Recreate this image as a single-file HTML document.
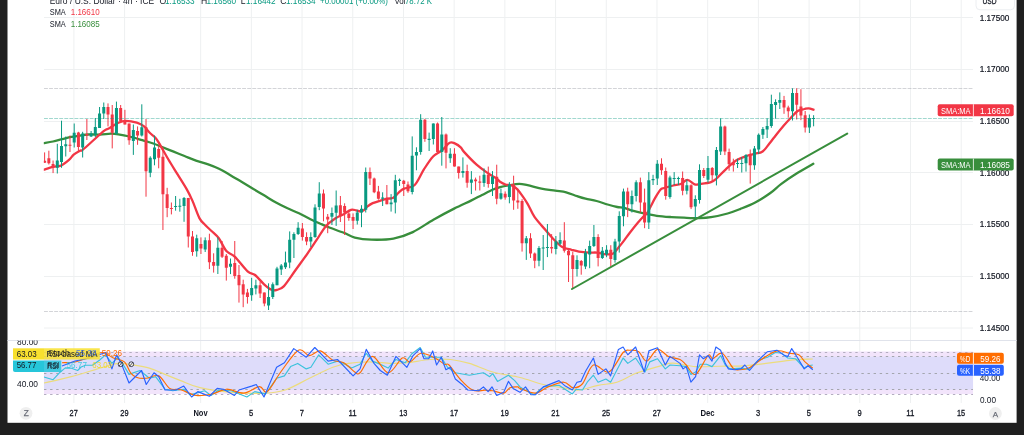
<!DOCTYPE html><html><head><meta charset="utf-8"><style>html,body{margin:0;padding:0;background:#1f1f1f;width:1024px;height:435px;overflow:hidden}svg{display:block}text{font-family:"Liberation Sans",sans-serif}</style></head><body>
<svg style="will-change:transform;filter:blur(0.3px)" width="1024" height="435" viewBox="0 0 1024 435">
<defs><clipPath id="plot"><rect x="43.8" y="0" width="929.4" height="340"/></clipPath>
<clipPath id="rsi"><rect x="43.8" y="340.5" width="929.4" height="62"/></clipPath>
<clipPath id="lscale"><rect x="7.5" y="340.5" width="36.3" height="62"/></clipPath></defs>
<rect x="0" y="0" width="1024" height="435" fill="#1f1f1f"/>
<rect x="7.5" y="0" width="1009.1" height="422.8" fill="#ffffff"/>
<path d="M73.90 0V403 M124.60 0V403 M200.65 0V403 M251.35 0V403 M302.06 0V403 M352.76 0V403 M403.46 0V403 M454.16 0V403 M504.87 0V403 M555.57 0V403 M606.27 0V403 M656.97 0V403 M707.68 0V403 M758.38 0V403 M809.08 0V403 M859.78 0V403 M910.49 0V403 M961.19 0V403 M44 17.5H973 M44 69.5H973 M44 121.5H973 M44 172.5H973 M44 224.5H973 M44 276.5H973 M44 328H973" stroke="#eef0f1" stroke-width="1" fill="none"/>
<path d="M44 88.5H973" stroke="#9598a1" stroke-width="1" stroke-dasharray="3.9 1.18" fill="none" opacity="0.42"/>
<path d="M44 311.5H973" stroke="#9598a1" stroke-width="1" stroke-dasharray="3.9 1.18" fill="none" opacity="0.42"/>
<g clip-path="url(#plot)">
<path d="M43.80 143.20 C45.33 142.92 49.93 142.17 53.00 141.50 C56.07 140.83 59.13 139.97 62.20 139.20 C65.27 138.43 68.43 137.48 71.40 136.90 C74.37 136.32 77.27 136.10 80.00 135.70 C82.73 135.30 84.47 134.70 87.80 134.50 C91.13 134.30 96.13 134.63 100.00 134.50 C103.87 134.37 107.93 133.73 111.00 133.70 C114.07 133.67 115.33 133.83 118.40 134.30 C121.47 134.77 125.42 135.52 129.40 136.50 C133.38 137.48 138.32 139.03 142.30 140.20 C146.28 141.37 150.10 142.40 153.30 143.50 C156.50 144.60 158.22 145.48 161.50 146.80 C164.78 148.12 169.17 149.87 173.00 151.40 C176.83 152.93 180.67 154.47 184.50 156.00 C188.33 157.53 192.17 159.25 196.00 160.60 C199.83 161.95 203.67 162.75 207.50 164.10 C211.33 165.45 215.25 166.90 219.00 168.70 C222.75 170.50 226.25 172.72 230.00 174.90 C233.75 177.08 237.67 179.50 241.50 181.80 C245.33 184.10 249.17 186.40 253.00 188.70 C256.83 191.00 260.67 193.30 264.50 195.60 C268.33 197.90 272.17 200.38 276.00 202.50 C279.83 204.62 283.67 206.50 287.50 208.30 C291.33 210.10 295.17 211.47 299.00 213.30 C302.83 215.13 306.67 217.45 310.50 219.30 C314.33 221.15 318.75 222.98 322.00 224.40 C325.25 225.82 326.37 226.40 330.00 227.80 C333.63 229.20 339.67 231.17 343.80 232.80 C347.93 234.43 350.20 236.45 354.80 237.60 C359.40 238.75 364.97 239.53 371.40 239.70 C377.83 239.87 386.50 239.87 393.40 238.60 C400.30 237.33 406.13 235.25 412.80 232.10 C419.47 228.95 426.52 223.62 433.40 219.70 C440.28 215.78 447.83 211.78 454.10 208.60 C460.37 205.42 466.35 202.87 471.00 200.60 C475.65 198.33 478.32 196.85 482.00 195.00 C485.68 193.15 490.10 190.80 493.10 189.50 C496.10 188.20 497.47 187.88 500.00 187.20 C502.53 186.52 505.08 185.97 508.30 185.40 C511.52 184.83 516.08 183.83 519.30 183.80 C522.52 183.77 523.92 184.40 527.60 185.20 C531.28 186.00 536.80 187.68 541.40 188.60 C546.00 189.52 551.07 190.08 555.20 190.70 C559.33 191.32 562.53 191.38 566.20 192.30 C569.87 193.22 573.98 195.13 577.20 196.20 C580.42 197.27 582.27 197.90 585.50 198.70 C588.73 199.50 592.92 200.03 596.60 201.00 C600.28 201.97 604.17 203.50 607.60 204.50 C611.03 205.50 614.45 206.43 617.20 207.00 C619.95 207.57 621.57 207.28 624.10 207.90 C626.63 208.52 629.10 209.78 632.40 210.70 C635.70 211.62 639.83 212.55 643.90 213.40 C647.97 214.25 652.20 215.18 656.80 215.80 C661.40 216.42 666.97 216.78 671.50 217.10 C676.03 217.42 679.25 217.53 684.00 217.70 C688.75 217.87 695.50 218.18 700.00 218.10 C704.50 218.02 706.40 217.97 711.00 217.20 C715.60 216.43 722.68 214.88 727.60 213.50 C732.52 212.12 735.90 210.73 740.50 208.90 C745.10 207.07 750.28 205.10 755.20 202.50 C760.12 199.90 765.70 196.37 770.00 193.30 C774.30 190.23 776.70 187.32 781.00 184.10 C785.30 180.88 790.42 177.38 795.80 174.00 C801.18 170.62 810.38 165.50 813.30 163.80" fill="none" stroke="#388e3c" stroke-width="2.3" stroke-linejoin="round" stroke-linecap="round"/>
<path d="M43.80 169.70 C45.33 169.22 50.13 167.48 53.00 166.80 C55.87 166.12 58.33 166.75 61.00 165.60 C63.67 164.45 66.88 161.72 69.00 159.90 C71.12 158.08 71.87 156.23 73.70 154.70 C75.53 153.17 78.57 151.45 80.00 150.70 C81.43 149.95 80.38 151.65 82.30 150.20 C84.22 148.75 87.88 145.22 91.50 142.00 C95.12 138.78 101.05 133.20 104.00 130.90 C106.95 128.60 106.80 129.57 109.20 128.20 C111.60 126.83 115.65 123.92 118.40 122.70 C121.15 121.48 122.63 120.90 125.70 120.90 C128.77 120.90 133.73 121.78 136.80 122.70 C139.87 123.62 141.95 124.72 144.10 126.40 C146.25 128.08 147.85 130.95 149.70 132.80 C151.55 134.65 153.62 135.73 155.20 137.50 C156.78 139.27 157.00 139.73 159.20 143.40 C161.40 147.07 165.33 154.33 168.40 159.50 C171.47 164.67 174.53 169.42 177.60 174.40 C180.67 179.38 184.32 184.98 186.80 189.40 C189.28 193.82 190.40 196.12 192.50 200.90 C194.60 205.68 197.28 214.08 199.40 218.10 C201.52 222.12 203.18 222.85 205.20 225.00 C207.22 227.15 209.23 228.78 211.50 231.00 C213.77 233.22 216.32 234.95 218.80 238.30 C221.28 241.65 223.75 248.03 226.40 251.10 C229.05 254.17 231.17 253.32 234.70 256.70 C238.23 260.08 244.22 268.35 247.60 271.40 C250.98 274.45 252.25 272.85 255.00 275.00 C257.75 277.15 261.35 281.83 264.10 284.30 C266.85 286.77 269.35 288.88 271.50 289.80 C273.65 290.72 274.92 290.42 277.00 289.80 C279.08 289.18 280.90 289.40 284.00 286.10 C287.10 282.80 291.67 275.45 295.60 270.00 C299.53 264.55 304.07 258.45 307.60 253.40 C311.13 248.35 313.73 244.28 316.80 239.70 C319.87 235.12 322.93 229.43 326.00 225.90 C329.07 222.37 332.20 220.50 335.20 218.50 C338.20 216.50 341.37 215.35 344.00 213.90 C346.63 212.45 348.98 210.40 351.00 209.80 C353.02 209.20 354.55 210.05 356.10 210.30 C357.65 210.55 359.03 211.30 360.30 211.30 C361.57 211.30 362.55 211.08 363.70 210.30 C364.85 209.52 365.70 207.80 367.20 206.60 C368.70 205.40 370.48 204.10 372.70 203.10 C374.92 202.10 377.98 201.33 380.50 200.60 C383.02 199.87 385.67 199.17 387.80 198.70 C389.93 198.23 391.45 198.87 393.30 197.80 C395.15 196.73 397.12 193.83 398.90 192.30 C400.68 190.77 401.37 189.82 404.00 188.60 C406.63 187.38 411.38 188.20 414.70 185.00 C418.02 181.80 420.83 174.15 423.90 169.40 C426.97 164.65 430.03 159.73 433.10 156.50 C436.17 153.27 439.53 152.30 442.30 150.00 C445.07 147.70 447.55 143.77 449.70 142.70 C451.85 141.63 453.37 142.83 455.20 143.60 C457.03 144.37 459.23 145.92 460.70 147.30 C462.17 148.68 461.35 149.00 464.00 151.90 C466.65 154.80 472.67 161.18 476.60 164.70 C480.53 168.22 484.23 170.68 487.60 173.00 C490.97 175.32 494.73 177.15 496.80 178.60 C498.87 180.05 498.55 180.72 500.00 181.70 C501.45 182.68 503.67 183.92 505.50 184.50 C507.33 185.08 509.15 184.52 511.00 185.20 C512.85 185.88 514.75 186.88 516.60 188.60 C518.45 190.32 520.27 192.97 522.10 195.50 C523.93 198.03 525.53 200.23 527.60 203.80 C529.67 207.37 531.52 212.53 534.50 216.90 C537.48 221.27 542.40 226.37 545.50 230.00 C548.60 233.63 550.30 235.87 553.10 238.70 C555.90 241.53 559.23 245.15 562.30 247.00 C565.37 248.85 568.73 249.03 571.50 249.80 C574.27 250.57 575.92 251.13 578.90 251.60 C581.88 252.07 586.42 252.43 589.40 252.60 C592.38 252.77 594.03 252.30 596.80 252.60 C599.57 252.90 603.25 254.25 606.00 254.40 C608.75 254.55 611.15 254.73 613.30 253.50 C615.45 252.27 617.12 249.15 618.90 247.00 C620.68 244.85 622.15 243.02 624.00 240.60 C625.85 238.18 627.73 235.43 630.00 232.50 C632.27 229.57 635.28 225.75 637.60 223.00 C639.92 220.25 642.32 217.63 643.90 216.00 C645.48 214.37 646.03 214.67 647.10 213.20 C648.17 211.73 648.93 209.78 650.30 207.20 C651.67 204.62 653.62 200.60 655.30 197.70 C656.98 194.80 658.95 191.42 660.40 189.80 C661.85 188.18 661.85 188.72 664.00 188.00 C666.15 187.28 670.52 186.17 673.30 185.50 C676.08 184.83 678.35 184.93 680.70 184.00 C683.05 183.07 685.07 179.85 687.40 179.90 C689.73 179.95 692.60 183.60 694.70 184.30 C696.80 185.00 697.28 184.45 700.00 184.10 C702.72 183.75 708.23 183.13 711.00 182.20 C713.77 181.27 714.13 180.65 716.60 178.50 C719.07 176.35 722.43 172.37 725.80 169.30 C729.17 166.23 733.12 162.40 736.80 160.10 C740.48 157.80 744.83 156.57 747.90 155.50 C750.97 154.43 752.75 154.37 755.20 153.70 C757.65 153.03 760.23 153.20 762.60 151.50 C764.97 149.80 767.48 145.83 769.40 143.50 C771.32 141.17 771.70 140.48 774.10 137.50 C776.50 134.52 781.03 128.85 783.80 125.60 C786.57 122.35 788.40 120.43 790.70 118.00 C793.00 115.57 795.30 112.50 797.60 111.00 C799.90 109.50 802.65 109.45 804.50 109.00 C806.35 108.55 807.20 108.18 808.70 108.30 C810.20 108.42 812.70 109.47 813.50 109.70" fill="none" stroke="#f23645" stroke-width="2.3" stroke-linejoin="round" stroke-linecap="round"/>
<path d="M57.30 143.8V173.5 M61.52 120.7V167.8 M65.75 136.5V156.5 M74.20 123.5V147.5 M82.65 131.8V157.5 M91.10 131.0V137.0 M95.32 118.0V137.0 M99.55 107.0V128.0 M103.77 102.5V119.0 M116.45 101.6V134.7 M133.35 124.5V154.9 M141.80 104.3V136.5 M150.25 156.3V177.2 M154.48 135.5V165.3 M175.60 196.0V210.7 M179.83 198.8V211.7 M184.05 197.0V221.8 M196.73 234.7V256.7 M205.18 237.4V252.0 M217.85 237.4V274.0 M230.53 258.5V274.1 M251.65 277.8V300.8 M255.88 279.7V294.4 M268.56 283.3V310.0 M272.78 282.4V299.0 M277.01 266.8V285.2 M281.23 264.0V275.0 M285.46 251.6V269.0 M289.68 231.4V268.2 M293.91 232.3V258.0 M298.13 222.2V235.0 M310.81 232.3V247.0 M315.03 204.3V237.8 M319.26 182.2V210.2 M331.93 207.5V225.0 M336.16 190.5V225.9 M357.28 209.8V224.5 M361.51 205.2V227.2 M365.74 167.5V212.5 M382.64 192.3V206.0 M391.09 194.1V211.6 M395.31 174.8V213.4 M399.54 178.5V185.9 M412.21 136.4V194.4 M416.44 147.3V170.3 M420.66 114.2V154.7 M429.11 132.6V151.0 M433.34 123.4V144.5 M441.79 117.0V165.7 M450.24 148.2V162.9 M462.91 157.4V177.6 M471.37 171.1V194.1 M484.04 168.4V186.8 M492.49 171.1V196.0 M500.94 188.6V199.7 M509.39 182.2V203.3 M526.29 236.0V259.9 M538.97 246.1V266.3 M543.19 235.0V270.0 M547.42 224.0V257.1 M555.87 236.0V254.4 M560.09 232.3V245.2 M577.00 255.3V276.5 M585.45 248.9V269.1 M589.67 240.6V268.2 M593.90 225.0V247.0 M602.35 247.0V259.0 M606.57 245.2V257.2 M615.02 238.8V262.7 M619.25 211.3V252.6 M623.47 188.6V226.3 M631.92 190.5V212.5 M636.15 180.3V201.5 M648.82 172.1V229.0 M653.05 174.8V185.0 M657.27 160.1V185.0 M669.95 175.7V198.7 M674.17 172.1V185.0 M678.40 176.7V185.0 M686.85 179.7V194.4 M695.30 195.3V218.3 M699.53 164.3V203.6 M707.98 156.0V182.6 M716.43 147.0V185.4 M720.65 118.3V155.0 M737.55 158.7V168.0 M741.78 157.0V172.5 M746.00 154.1V171.6 M754.45 146.0V169.8 M758.68 133.4V154.1 M762.90 127.0V138.9 M767.13 118.3V138.0 M771.35 94.7V127.8 M775.58 99.3V118.7 M779.80 92.4V109.0 M792.48 88.3V120.5 M809.38 114.5V133.0 M813.61 115.2V126.3" stroke="#089981" stroke-width="1" fill="none"/>
<path d="M44.62 152.4V162.8 M48.85 150.7V164.5 M53.07 160.5V173.1 M69.97 135.5V152.0 M78.42 131.8V151.0 M86.87 119.0V140.0 M108.00 103.4V126.4 M112.22 105.0V148.4 M120.67 105.0V121.8 M124.90 109.8V124.5 M129.12 123.6V144.8 M137.57 126.4V144.8 M146.02 119.0V196.7 M158.70 145.7V168.3 M162.93 147.6V230.0 M167.15 187.8V217.2 M171.38 202.5V214.4 M188.28 197.9V247.5 M192.50 231.0V255.8 M200.95 237.4V254.0 M209.40 233.7V269.1 M213.63 253.3V272.6 M222.08 241.0V258.0 M226.30 254.0V280.6 M234.75 241.0V278.7 M238.98 265.0V302.6 M243.20 279.7V307.2 M247.43 288.9V303.6 M260.11 281.5V298.0 M264.33 292.5V306.3 M302.36 223.0V240.6 M306.58 232.3V245.2 M323.48 189.5V221.3 M327.71 214.0V233.2 M340.38 196.0V222.0 M344.61 203.3V235.0 M348.83 209.8V220.8 M353.06 213.4V229.0 M369.96 167.5V185.0 M374.19 177.6V193.2 M378.41 185.9V199.7 M386.86 185.0V204.3 M403.76 179.9V196.0 M407.99 181.5V192.8 M424.89 118.8V141.8 M437.56 122.5V151.9 M446.01 133.5V168.4 M454.46 148.2V166.6 M458.69 166.6V178.6 M467.14 164.7V187.7 M475.59 177.6V190.5 M479.82 175.7V190.5 M488.27 166.6V187.7 M496.72 164.7V204.3 M505.17 191.4V199.7 M513.62 175.7V209.8 M517.84 188.6V208.8 M522.07 199.2V251.6 M530.52 233.2V258.0 M534.74 252.5V268.2 M551.64 234.1V253.4 M564.32 222.2V252.6 M568.54 248.9V282.0 M572.77 251.7V288.4 M581.22 260.0V274.7 M598.12 234.2V266.4 M610.80 245.2V266.4 M627.70 187.7V217.1 M640.37 177.6V212.5 M644.60 188.6V228.2 M661.50 158.3V174.8 M665.72 167.5V199.7 M682.63 171.5V195.3 M691.08 184.3V209.1 M703.75 168.0V178.0 M712.20 167.0V181.7 M724.88 125.6V155.1 M729.10 148.6V170.7 M733.33 158.7V171.6 M750.23 149.5V183.6 M784.03 95.9V113.8 M788.26 105.7V117.7 M796.71 88.3V119.5 M800.93 89.2V120.2 M805.16 111.0V132.5" stroke="#f23645" stroke-width="1" fill="none"/>
<path d="M55.80 160.5h3v7.3h-3z M60.02 146.0h3v16.0h-3z M64.25 144.2h3v2.1h-3z M72.70 132.8h3v9.7h-3z M81.15 133.6h3v13.8h-3z M89.60 133.6h3v2.8h-3z M93.82 127.0h3v7.5h-3z M98.05 113.4h3v14.6h-3z M102.27 107.0h3v6.5h-3z M114.95 108.0h3v25.7h-3z M131.85 130.0h3v11.0h-3z M140.30 127.3h3v8.3h-3z M148.75 157.8h3v15.0h-3z M152.98 147.4h3v11.9h-3z M174.10 206.1h3v1.0h-3z M178.33 205.8h3v1.0h-3z M182.55 197.9h3v8.2h-3z M195.23 238.3h3v12.9h-3z M203.68 240.2h3v9.2h-3z M216.35 247.8h3v17.9h-3z M229.03 263.7h3v3.1h-3z M250.15 288.0h3v7.3h-3z M254.38 285.2h3v3.3h-3z M267.06 297.1h3v8.3h-3z M271.28 284.3h3v12.8h-3z M275.51 268.6h3v16.6h-3z M279.73 265.5h3v4.0h-3z M283.96 262.6h3v4.6h-3z M288.18 239.7h3v22.9h-3z M292.41 234.1h3v5.6h-3z M296.63 227.7h3v6.4h-3z M309.31 236.9h3v4.6h-3z M313.53 207.5h3v29.4h-3z M317.76 193.5h3v13.5h-3z M330.43 213.0h3v3.7h-3z M334.66 205.4h3v7.4h-3z M355.78 212.5h3v8.3h-3z M360.01 208.8h3v3.7h-3z M364.24 172.0h3v37.8h-3z M381.14 197.4h3v1.3h-3z M389.59 202.4h3v1.9h-3z M393.81 180.3h3v22.1h-3z M398.04 179.8h3v1.2h-3z M410.71 155.8h3v36.2h-3z M414.94 151.9h3v3.7h-3z M419.16 119.7h3v32.2h-3z M427.61 138.7h3v1.3h-3z M431.84 123.4h3v15.6h-3z M440.29 134.4h3v17.5h-3z M448.74 153.7h3v4.6h-3z M461.41 171.1h3v1.9h-3z M469.87 179.4h3v3.3h-3z M482.54 174.8h3v8.3h-3z M490.99 176.7h3v7.3h-3z M499.44 193.2h3v5.5h-3z M507.89 184.6h3v12.3h-3z M524.79 238.2h3v5.1h-3z M537.47 248.0h3v12.8h-3z M541.69 247.4h3v1.1h-3z M545.92 247.0h3v1.1h-3z M554.37 241.5h3v7.4h-3z M558.59 240.0h3v3.7h-3z M575.50 260.0h3v9.1h-3z M583.95 252.6h3v13.8h-3z M588.17 246.1h3v8.3h-3z M592.40 237.0h3v9.1h-3z M600.85 250.7h3v7.4h-3z M605.07 249.8h3v4.6h-3z M613.52 241.6h3v18.3h-3z M617.75 215.9h3v25.7h-3z M621.97 191.4h3v24.8h-3z M630.42 196.0h3v8.3h-3z M634.65 182.2h3v13.8h-3z M647.32 180.3h3v42.3h-3z M651.55 179.0h3v1.3h-3z M655.77 163.8h3v14.7h-3z M668.45 177.6h3v19.3h-3z M672.67 178.1h3v1.0h-3z M676.90 178.1h3v1.0h-3z M685.35 185.2h3v5.5h-3z M693.80 199.0h3v7.4h-3z M698.03 170.0h3v30.0h-3z M706.48 168.0h3v11.8h-3z M714.93 150.0h3v25.5h-3z M719.15 126.6h3v24.8h-3z M736.05 163.0h3v1.0h-3z M740.28 163.0h3v1.0h-3z M744.50 155.0h3v8.3h-3z M752.95 148.6h3v16.6h-3z M757.18 134.8h3v14.7h-3z M761.40 129.0h3v5.8h-3z M765.63 126.0h3v3.5h-3z M769.85 103.9h3v22.1h-3z M774.08 102.1h3v2.8h-3z M778.30 100.0h3v2.8h-3z M790.98 92.9h3v18.4h-3z M807.88 118.0h3v9.6h-3z M812.11 118.0h3v1.0h-3z" fill="#089981"/>
<path d="M43.12 160.8h3v2.0h-3z M47.35 158.2h3v5.1h-3z M51.57 163.9h3v3.5h-3z M68.47 144.8h3v1.0h-3z M76.92 132.5h3v14.5h-3z M85.37 134.0h3v1.5h-3z M106.50 107.0h3v7.4h-3z M110.72 114.4h3v18.4h-3z M119.17 108.0h3v12.9h-3z M123.40 120.9h3v3.6h-3z M127.62 123.6h3v16.6h-3z M136.07 131.0h3v4.6h-3z M144.52 127.3h3v44.0h-3z M157.20 148.9h3v8.9h-3z M161.43 156.8h3v37.4h-3z M165.65 194.2h3v13.8h-3z M169.88 208.0h3v1.0h-3z M186.78 197.9h3v38.6h-3z M191.00 236.5h3v15.5h-3z M199.45 243.9h3v4.5h-3z M207.90 240.2h3v22.0h-3z M212.13 262.0h3v3.7h-3z M220.58 247.8h3v8.9h-3z M224.80 255.7h3v12.0h-3z M233.25 263.1h3v12.9h-3z M237.48 275.0h3v10.2h-3z M241.70 284.3h3v10.1h-3z M245.93 292.5h3v4.6h-3z M258.61 285.2h3v8.2h-3z M262.83 292.5h3v11.1h-3z M300.86 228.6h3v8.3h-3z M305.08 236.9h3v4.6h-3z M321.98 193.5h3v15.0h-3z M326.21 216.7h3v2.7h-3z M338.88 205.2h3v11.0h-3z M343.11 206.1h3v6.4h-3z M347.33 213.4h3v4.6h-3z M351.56 217.1h3v3.7h-3z M368.46 172.0h3v6.5h-3z M372.69 178.5h3v13.8h-3z M376.91 191.4h3v7.3h-3z M385.36 197.8h3v6.5h-3z M402.26 180.7h3v3.3h-3z M406.49 184.4h3v6.8h-3z M423.39 119.7h3v19.3h-3z M436.06 123.4h3v28.5h-3z M444.51 134.4h3v18.4h-3z M452.96 153.7h3v12.9h-3z M457.19 166.6h3v6.4h-3z M465.64 171.1h3v11.6h-3z M474.09 179.4h3v1.9h-3z M478.32 181.6h3v1.1h-3z M486.77 174.8h3v9.2h-3z M495.22 176.7h3v22.0h-3z M503.67 193.8h3v3.6h-3z M512.12 184.6h3v16.0h-3z M516.34 200.6h3v1.8h-3z M520.57 201.0h3v42.3h-3z M529.02 238.2h3v15.2h-3z M533.24 253.4h3v7.4h-3z M550.14 247.0h3v1.5h-3z M562.82 240.6h3v10.1h-3z M567.04 250.7h3v4.6h-3z M571.27 255.3h3v13.8h-3z M579.72 260.9h3v4.6h-3z M596.62 237.0h3v21.1h-3z M609.30 249.8h3v9.2h-3z M626.20 191.4h3v12.9h-3z M638.87 182.2h3v20.2h-3z M643.10 202.4h3v20.2h-3z M660.00 163.8h3v6.4h-3z M664.22 171.1h3v24.9h-3z M681.13 178.0h3v12.7h-3z M689.58 185.2h3v22.1h-3z M702.25 170.0h3v6.0h-3z M710.70 168.0h3v7.3h-3z M723.38 126.6h3v24.8h-3z M727.60 152.0h3v12.3h-3z M731.83 162.4h3v2.8h-3z M748.73 155.0h3v10.2h-3z M782.53 100.0h3v7.6h-3z M786.76 107.6h3v3.7h-3z M795.21 92.9h3v11.9h-3z M799.43 106.5h3v9.1h-3z M803.66 115.2h3v12.4h-3z" fill="#f23645"/>
<line x1="572" y1="289" x2="847.2" y2="133.6" stroke="#388e3c" stroke-width="2" stroke-linecap="round"/>
</g>
<path d="M44 118.5H973" stroke="#089981" stroke-width="1" stroke-dasharray="3.9 1.18" fill="none" opacity="0.38"/>
<text x="49.7" y="3.6" font-size="8.6" fill="#131722" text-anchor="start" font-weight="normal" textLength="104.5" lengthAdjust="spacingAndGlyphs">Euro / U.S. Dollar · 4h · ICE</text>
<text x="159.5" y="3.6" font-size="8.6" fill="#131722" text-anchor="start" font-weight="normal">O</text>
<text x="165" y="3.6" font-size="8.6" fill="#089981" text-anchor="start" font-weight="normal" textLength="29.7" lengthAdjust="spacingAndGlyphs">1.16533</text>
<text x="201" y="3.6" font-size="8.6" fill="#131722" text-anchor="start" font-weight="normal">H</text>
<text x="206.5" y="3.6" font-size="8.6" fill="#089981" text-anchor="start" font-weight="normal" textLength="29.7" lengthAdjust="spacingAndGlyphs">1.16560</text>
<text x="240.8" y="3.6" font-size="8.6" fill="#131722" text-anchor="start" font-weight="normal">L</text>
<text x="246" y="3.6" font-size="8.6" fill="#089981" text-anchor="start" font-weight="normal" textLength="29.7" lengthAdjust="spacingAndGlyphs">1.16442</text>
<text x="280.3" y="3.6" font-size="8.6" fill="#131722" text-anchor="start" font-weight="normal">C</text>
<text x="286" y="3.6" font-size="8.6" fill="#089981" text-anchor="start" font-weight="normal" textLength="29.7" lengthAdjust="spacingAndGlyphs">1.16534</text>
<text x="320" y="3.6" font-size="8.6" fill="#089981" text-anchor="start" font-weight="normal" textLength="68" lengthAdjust="spacingAndGlyphs">+0.00001 (+0.00%)</text>
<text x="394.4" y="3.6" font-size="8.6" fill="#131722" text-anchor="start" font-weight="normal" textLength="11" lengthAdjust="spacingAndGlyphs">Vol</text>
<text x="405" y="3.6" font-size="8.6" fill="#089981" text-anchor="start" font-weight="normal" textLength="27" lengthAdjust="spacingAndGlyphs">78.72 K</text>
<text x="49.8" y="15.3" font-size="8.6" fill="#131722" text-anchor="start" font-weight="normal" textLength="16" lengthAdjust="spacingAndGlyphs">SMA</text>
<text x="70.7" y="15.3" font-size="8.6" fill="#f23645" text-anchor="start" font-weight="normal" textLength="29" lengthAdjust="spacingAndGlyphs">1.16610</text>
<text x="49.8" y="27.3" font-size="8.6" fill="#131722" text-anchor="start" font-weight="normal" textLength="16" lengthAdjust="spacingAndGlyphs">SMA</text>
<text x="70.7" y="27.3" font-size="8.6" fill="#388e3c" text-anchor="start" font-weight="normal" textLength="29" lengthAdjust="spacingAndGlyphs">1.16085</text>
<text x="979.7" y="20.6" font-size="8.6" fill="#131722" text-anchor="start" font-weight="normal" textLength="29.7" lengthAdjust="spacingAndGlyphs" stroke="#131722" stroke-width="0.2">1.17500</text>
<text x="979.7" y="72.3" font-size="8.6" fill="#131722" text-anchor="start" font-weight="normal" textLength="29.7" lengthAdjust="spacingAndGlyphs" stroke="#131722" stroke-width="0.2">1.17000</text>
<text x="979.7" y="123.9" font-size="8.6" fill="#131722" text-anchor="start" font-weight="normal" textLength="29.7" lengthAdjust="spacingAndGlyphs" stroke="#131722" stroke-width="0.2">1.16500</text>
<text x="979.7" y="175.6" font-size="8.6" fill="#131722" text-anchor="start" font-weight="normal" textLength="29.7" lengthAdjust="spacingAndGlyphs" stroke="#131722" stroke-width="0.2">1.16000</text>
<text x="979.7" y="227.3" font-size="8.6" fill="#131722" text-anchor="start" font-weight="normal" textLength="29.7" lengthAdjust="spacingAndGlyphs" stroke="#131722" stroke-width="0.2">1.15500</text>
<text x="979.7" y="279.0" font-size="8.6" fill="#131722" text-anchor="start" font-weight="normal" textLength="29.7" lengthAdjust="spacingAndGlyphs" stroke="#131722" stroke-width="0.2">1.15000</text>
<text x="979.7" y="330.9" font-size="8.6" fill="#131722" text-anchor="start" font-weight="normal" textLength="29.7" lengthAdjust="spacingAndGlyphs" stroke="#131722" stroke-width="0.2">1.14500</text>
<rect x="976" y="-6" width="38.5" height="15.8" rx="4" fill="#ffffff" stroke="#eceef1" stroke-width="1"/>
<text x="982.5" y="3.8" font-size="8.6" fill="#131722" text-anchor="start" font-weight="normal" textLength="14" lengthAdjust="spacingAndGlyphs" stroke="#131722" stroke-width="0.25">USD</text>
<rect x="937.7" y="104.2" width="76" height="12" rx="2" fill="#f23645"/>
<line x1="973.4" y1="104.2" x2="973.4" y2="116.2" stroke="#ffffff" stroke-width="0.8"/>
<text x="941" y="113.6" font-size="8.6" fill="#fff" text-anchor="start" font-weight="normal" textLength="29.5" lengthAdjust="spacingAndGlyphs">SMA:MA</text>
<text x="980" y="113.6" font-size="8.6" fill="#fff" text-anchor="start" font-weight="normal" textLength="30" lengthAdjust="spacingAndGlyphs">1.16610</text>
<rect x="937.7" y="158.6" width="76" height="12" rx="2" fill="#388e3c"/>
<line x1="973.4" y1="158.6" x2="973.4" y2="170.6" stroke="#ffffff" stroke-width="0.8"/>
<text x="941" y="168" font-size="8.6" fill="#fff" text-anchor="start" font-weight="normal" textLength="29.5" lengthAdjust="spacingAndGlyphs">SMA:MA</text>
<text x="980" y="168" font-size="8.6" fill="#fff" text-anchor="start" font-weight="normal" textLength="30" lengthAdjust="spacingAndGlyphs">1.16085</text>
<path d="M7.5 340.5H1016.6" stroke="#e0e3eb" stroke-width="1"/>
<g clip-path="url(#rsi)">
<rect x="43.8" y="351.5" width="929.4" height="42.6" fill="#f2e4fb"/>
<rect x="43.8" y="356.7" width="929.4" height="32.9" fill="#dedcfa"/>
<path d="M44 352.5H973M44 394.5H973" stroke="#b3adc0" stroke-width="1" stroke-dasharray="2.4 3.7" fill="none"/>
<path d="M44 356.5H973M44 373.5H973M44 389.5H973" stroke="#a4a6ae" stroke-width="1" stroke-dasharray="2.4 3.7" fill="none"/>
<path d="M43.90 383.00 C48.47 381.95 61.53 379.32 71.30 376.70 C81.07 374.08 94.70 369.52 102.50 367.30 C110.30 365.08 112.89 363.78 118.10 363.40 C123.31 363.02 128.53 364.22 133.75 365.00 C138.97 365.78 144.19 366.53 149.40 368.10 C154.61 369.67 159.80 372.32 165.00 374.40 C170.20 376.48 174.77 378.38 180.60 380.60 C186.43 382.82 191.56 385.75 200.00 387.70 C208.44 389.65 220.32 391.40 231.25 392.30 C242.18 393.20 256.49 393.53 265.60 393.10 C274.71 392.67 278.60 392.17 285.90 389.70 C293.20 387.23 301.58 382.03 309.40 378.30 C317.22 374.57 326.30 369.78 332.80 367.30 C339.30 364.82 342.30 364.30 348.40 363.40 C354.50 362.50 362.26 361.90 369.40 361.90 C376.54 361.90 385.00 363.27 391.25 363.40 C397.50 363.53 400.39 363.35 406.90 362.70 C413.41 362.05 423.02 360.03 430.30 359.50 C437.58 358.97 444.08 358.85 450.60 359.50 C457.12 360.15 462.37 361.32 469.40 363.40 C476.43 365.48 484.37 369.65 492.80 372.00 C501.23 374.35 511.57 375.42 520.00 377.50 C528.43 379.58 535.58 382.68 543.40 384.50 C551.22 386.32 560.90 387.48 566.90 388.40 C572.90 389.32 574.20 390.52 579.40 390.00 C584.60 389.48 591.85 386.60 598.10 385.30 C604.35 384.00 610.38 384.28 616.90 382.20 C623.42 380.12 629.92 375.53 637.20 372.80 C644.48 370.07 654.62 367.42 660.60 365.80 C666.58 364.18 667.27 362.97 673.10 363.10 C678.93 363.23 687.95 366.08 695.60 366.60 C703.25 367.12 711.18 366.38 719.00 366.25 C726.82 366.12 734.68 366.28 742.50 365.80 C750.32 365.32 758.08 364.32 765.90 363.40 C773.72 362.48 781.58 361.03 789.40 360.30 C797.22 359.57 808.90 359.22 812.80 359.00" fill="none" stroke="#ecdc7c" stroke-width="1.2" stroke-linejoin="round"/>
<polyline points="43.90,377.00 53.10,379.70 60.10,372.20 65.30,367.90 71.50,368.30 77.60,370.50 81.10,367.00 85.50,365.20 92.40,365.20 99.40,360.30 105.60,354.80 111.90,363.40 118.10,357.20 124.40,366.60 129.00,374.40 140.00,370.50 149.40,378.30 155.60,376.70 165.00,389.20 172.80,390.80 183.75,389.20 190.00,394.70 196.25,393.10 204.70,390.80 211.00,395.50 218.75,390.00 231.25,390.80 246.90,397.00 254.70,391.60 265.60,393.90 276.60,378.30 284.40,375.90 290.60,366.60 297.70,363.40 306.25,368.90 310.90,367.30 318.75,354.80 328.10,364.20 337.50,361.10 343.75,363.40 351.60,368.10 360.00,364.20 366.25,353.30 372.50,361.10 381.90,365.00 388.10,368.10 395.90,359.50 405.30,362.70 411.60,354.00 420.20,347.50 425.60,357.20 441.25,357.20 447.50,367.30 455.30,372.80 469.40,375.20 483.40,372.80 489.70,376.70 492.80,373.60 497.50,381.40 508.40,375.20 514.70,380.60 520.00,386.90 526.25,390.80 534.00,394.70 543.40,386.90 559.00,385.30 572.30,393.90 576.25,389.20 582.50,390.00 587.20,382.20 593.40,375.20 598.10,382.20 605.90,379.00 610.60,382.20 623.10,358.00 627.80,363.40 635.60,358.00 645.00,372.00 649.70,361.90 657.50,358.75 665.30,368.90 670.00,365.00 680.00,365.80 686.25,366.60 690.90,374.40 695.60,372.00 700.30,364.20 706.60,364.20 712.00,366.60 720.60,355.60 725.30,365.00 730.00,368.90 742.50,368.10 748.75,369.70 758.10,360.30 767.50,357.20 775.30,352.50 781.60,353.30 787.80,358.00 795.60,358.75 804.20,368.10 808.10,365.80 812.80,365.00" fill="none" stroke="#3bc2dc" stroke-width="1.15" stroke-linejoin="round"/>
<path d="M62.00 362.70 C64.17 362.58 70.33 362.95 75.00 362.00 C79.67 361.05 85.42 358.58 90.00 357.00 C94.58 355.42 98.60 352.33 102.50 352.50 C106.40 352.67 109.75 356.43 113.40 358.00 C117.05 359.57 121.53 359.43 124.40 361.90 C127.27 364.37 128.52 370.20 130.60 372.80 C132.68 375.40 134.29 376.58 136.90 377.50 C139.51 378.42 142.61 378.57 146.25 378.30 C149.89 378.03 154.84 374.22 158.75 375.90 C162.66 377.58 166.06 386.10 169.70 388.40 C173.34 390.70 176.17 388.52 180.60 389.70 C185.03 390.88 190.93 394.80 196.25 395.50 C201.57 396.20 207.44 394.95 212.50 393.90 C217.56 392.85 221.39 389.33 226.60 389.20 C231.81 389.07 238.28 393.53 243.75 393.10 C249.22 392.67 255.49 386.85 259.40 386.60 C263.31 386.35 263.56 394.16 267.20 391.60 C270.84 389.04 276.05 378.15 281.25 371.25 C286.45 364.35 293.71 352.81 298.40 350.20 C303.09 347.59 305.75 355.48 309.40 355.60 C313.05 355.72 316.40 350.12 320.30 350.90 C324.20 351.68 328.89 358.33 332.80 360.30 C336.71 362.27 340.10 360.75 343.75 362.70 C347.40 364.65 351.99 370.32 354.70 372.00 C357.41 373.68 357.03 375.40 360.00 372.80 C362.97 370.20 367.82 356.40 372.50 356.40 C377.18 356.40 383.15 372.53 388.10 372.80 C393.05 373.07 398.55 359.82 402.20 358.00 C405.85 356.18 406.88 362.68 410.00 361.90 C413.12 361.12 416.73 353.95 420.90 353.30 C425.07 352.65 431.08 356.18 435.00 358.00 C438.92 359.82 442.07 363.03 444.40 364.20 C446.73 365.37 446.40 362.53 449.00 365.00 C451.60 367.47 456.08 374.83 460.00 379.00 C463.92 383.17 468.33 388.12 472.50 390.00 C476.67 391.88 481.62 390.17 485.00 390.30 C488.38 390.43 489.68 390.33 492.80 390.80 C495.93 391.27 500.88 393.62 503.75 393.10 C506.62 392.58 507.66 388.73 510.00 387.70 C512.34 386.67 516.13 386.78 517.80 386.90 C519.47 387.02 517.03 387.37 520.00 388.40 C522.97 389.43 530.92 393.35 535.60 393.10 C540.28 392.85 543.41 388.72 548.10 386.90 C552.79 385.08 559.58 382.07 563.75 382.20 C567.92 382.33 569.98 387.44 573.10 387.70 C576.23 387.96 579.12 387.53 582.50 383.75 C585.88 379.97 588.98 366.96 593.40 365.00 C597.82 363.04 604.05 374.08 609.00 372.00 C613.95 369.92 619.70 356.13 623.10 352.50 C626.50 348.87 626.79 350.33 629.40 350.20 C632.01 350.07 635.88 349.88 638.75 351.70 C641.62 353.52 643.48 361.48 646.60 361.10 C649.73 360.72 653.87 350.18 657.50 349.40 C661.13 348.62 664.65 354.72 668.40 356.40 C672.15 358.08 677.02 358.07 680.00 359.50 C682.98 360.93 683.65 362.52 686.25 365.00 C688.85 367.48 691.96 375.97 695.60 374.40 C699.24 372.83 705.23 358.21 708.10 355.60 C710.97 352.99 710.45 359.13 712.80 358.75 C715.15 358.37 718.82 351.74 722.20 353.30 C725.58 354.86 730.23 365.37 733.10 368.10 C735.97 370.83 736.79 369.70 739.40 369.70 C742.01 369.70 745.11 369.80 748.75 368.10 C752.39 366.40 756.56 362.37 761.25 359.50 C765.94 356.63 772.21 351.93 776.90 350.90 C781.59 349.87 785.76 352.65 789.40 353.30 C793.04 353.95 796.15 353.37 798.75 354.80 C801.35 356.23 802.66 359.68 805.00 361.90 C807.34 364.12 811.50 367.07 812.80 368.10" fill="none" stroke="#ff6d00" stroke-width="1.15" stroke-linejoin="round"/>
<polyline points="62.00,366.00 75.00,361.00 90.00,358.00 105.60,352.50 111.90,368.90 116.60,354.80 121.25,363.40 129.00,383.00 141.60,370.50 146.25,384.50 154.00,372.80 158.75,376.70 165.00,390.00 175.90,390.00 183.75,386.10 191.60,397.00 197.80,391.60 209.40,396.25 217.20,388.40 223.40,389.20 234.40,395.50 239.00,390.00 251.60,386.10 256.25,384.50 264.00,397.00 276.60,367.30 284.40,362.70 293.75,348.60 306.25,357.20 314.80,347.50 328.10,361.10 337.50,359.50 353.10,375.90 360.00,368.90 366.25,349.40 374.00,363.40 380.30,370.50 387.30,375.20 395.90,356.40 406.90,367.30 413.10,355.60 420.20,348.60 424.00,358.75 428.75,358.75 432.70,350.90 436.60,365.00 441.25,357.20 445.90,369.70 450.60,367.30 455.30,379.00 463.10,385.30 467.80,390.00 478.75,390.80 483.40,386.90 488.10,391.60 492.00,386.90 496.70,395.50 503.75,392.30 508.40,381.40 513.10,388.40 520.00,392.30 525.50,386.90 530.90,394.70 535.60,394.70 543.40,386.90 559.00,380.60 565.30,386.10 572.30,390.00 577.00,382.20 580.90,381.40 585.60,371.25 593.40,358.00 598.10,374.40 605.90,368.90 610.60,375.90 618.40,349.40 623.10,347.00 627.80,354.80 635.60,347.00 644.20,372.00 648.90,350.90 657.50,347.80 665.30,365.00 670.00,356.40 680.00,363.40 683.10,368.90 686.25,366.60 690.90,382.20 695.60,376.70 699.50,354.80 703.40,358.75 708.10,355.60 712.00,361.10 715.90,347.00 720.60,350.20 725.30,363.40 728.40,368.90 734.70,369.70 740.90,368.90 744.80,365.00 749.50,370.50 758.10,360.30 767.50,351.70 776.90,350.20 784.70,355.60 787.80,356.40 791.70,348.60 797.20,357.20 804.20,368.90 808.10,365.80 812.80,369.70" fill="none" stroke="#2962ff" stroke-width="1.15" stroke-linejoin="round"/>
</g>
<g clip-path="url(#lscale)">
<text x="17" y="344.6" font-size="8.4" fill="#131722" text-anchor="start" font-weight="normal" textLength="21" lengthAdjust="spacingAndGlyphs">80.00</text>
</g>
<text x="17" y="386.9" font-size="8.4" fill="#131722" text-anchor="start" font-weight="normal" textLength="21" lengthAdjust="spacingAndGlyphs">40.00</text>
<path d="M13 348.3H44V359.6H13z" fill="#f8e02e"/>
<path d="M44 348.3H99.8V359.6H44z" fill="#f8e02e" fill-opacity="0.85"/>
<text x="16.7" y="356.6" font-size="8.6" fill="#131722" text-anchor="start" font-weight="normal" textLength="20" lengthAdjust="spacingAndGlyphs">63.03</text>
<text x="46.6" y="357.4" font-size="8.6" fill="#131722" text-anchor="start" font-weight="normal" textLength="51" lengthAdjust="spacingAndGlyphs">RSI-based MA</text>
<path d="M13 360.5H44V372H15a2 2 0 0 1 -2 -2z" fill="#26c6da"/>
<path d="M44 360.5H61.3V372H44z" fill="#26c6da" fill-opacity="0.85"/>
<text x="16.7" y="368.4" font-size="8.6" fill="#131722" text-anchor="start" font-weight="normal" textLength="19.6" lengthAdjust="spacingAndGlyphs">56.77</text>
<text x="47" y="368.8" font-size="8.6" fill="#131722" text-anchor="start" font-weight="normal" textLength="11.7" lengthAdjust="spacingAndGlyphs">RSI</text>
<text x="47.8" y="355.8" font-size="8.6" fill="#131722" text-anchor="start" font-weight="normal" textLength="22" lengthAdjust="spacingAndGlyphs" opacity="0.85">Stoch</text>
<text x="76" y="355.8" font-size="8.6" fill="#2962ff" text-anchor="start" font-weight="normal" textLength="20.5" lengthAdjust="spacingAndGlyphs" opacity="0.8">55.38</text>
<text x="101.7" y="355.8" font-size="8.6" fill="#ff6d00" text-anchor="start" font-weight="normal" textLength="20.3" lengthAdjust="spacingAndGlyphs">59.26</text>
<text x="47.5" y="368.3" font-size="8.6" fill="#131722" text-anchor="start" font-weight="normal" textLength="12" lengthAdjust="spacingAndGlyphs" opacity="0.8">RSI</text>
<text x="66.6" y="368.3" font-size="8.6" fill="#26c6da" text-anchor="start" font-weight="normal" textLength="20.3" lengthAdjust="spacingAndGlyphs" opacity="0.85">56.77</text>
<text x="92.3" y="368.3" font-size="8.6" fill="#f5d80b" text-anchor="start" font-weight="normal" textLength="19.6" lengthAdjust="spacingAndGlyphs" opacity="0.85">63.03</text>
<circle cx="120.6" cy="364.2" r="2.4" fill="#ffffff" fill-opacity="0.6" stroke="#131722" stroke-width="0.75"/><line x1="118.8" y1="366.4" x2="122.4" y2="362" stroke="#131722" stroke-width="0.7"/>
<circle cx="131.3" cy="364.2" r="2.4" fill="#ffffff" fill-opacity="0.6" stroke="#131722" stroke-width="0.75"/><line x1="129.5" y1="366.4" x2="133.1" y2="362" stroke="#131722" stroke-width="0.7"/>
<text x="979.8" y="380.9" font-size="8.6" fill="#131722" text-anchor="start" font-weight="normal" textLength="20.5" lengthAdjust="spacingAndGlyphs">40.00</text>
<text x="980" y="403" font-size="8.6" fill="#131722" text-anchor="start" font-weight="normal" textLength="16" lengthAdjust="spacingAndGlyphs">0.00</text>
<rect x="957" y="352.8" width="46.8" height="11" rx="2" fill="#ff6d00"/>
<line x1="973.4" y1="352.8" x2="973.4" y2="363.8" stroke="#fff" stroke-width="0.9"/>
<text x="960.1" y="362" font-size="8.6" fill="#fff" text-anchor="start" font-weight="normal" textLength="10.1" lengthAdjust="spacingAndGlyphs">%D</text>
<text x="980.3" y="362" font-size="8.6" fill="#fff" text-anchor="start" font-weight="normal" textLength="20.2" lengthAdjust="spacingAndGlyphs">59.26</text>
<rect x="957" y="364.8" width="46.8" height="11" rx="2" fill="#2962ff"/>
<line x1="973.4" y1="364.8" x2="973.4" y2="375.8" stroke="#fff" stroke-width="0.9"/>
<text x="960.1" y="374" font-size="8.6" fill="#fff" text-anchor="start" font-weight="normal" textLength="10.1" lengthAdjust="spacingAndGlyphs">%K</text>
<text x="980.3" y="374" font-size="8.6" fill="#fff" text-anchor="start" font-weight="normal" textLength="20.2" lengthAdjust="spacingAndGlyphs">55.38</text>
<text x="69.6" y="416.3" font-size="9.2" fill="#131722" text-anchor="start" font-weight="normal" textLength="8.2" lengthAdjust="spacingAndGlyphs" stroke="#131722" stroke-width="0.3">27</text>
<text x="120.3" y="416.3" font-size="9.2" fill="#131722" text-anchor="start" font-weight="normal" textLength="8.2" lengthAdjust="spacingAndGlyphs" stroke="#131722" stroke-width="0.3">29</text>
<text x="193.4" y="416.3" font-size="9.2" fill="#131722" text-anchor="start" font-weight="bold" textLength="14.2" lengthAdjust="spacingAndGlyphs">Nov</text>
<text x="249.1" y="416.3" font-size="9.2" fill="#131722" text-anchor="start" font-weight="normal" textLength="4.2" lengthAdjust="spacingAndGlyphs" stroke="#131722" stroke-width="0.3">5</text>
<text x="299.8" y="416.3" font-size="9.2" fill="#131722" text-anchor="start" font-weight="normal" textLength="4.2" lengthAdjust="spacingAndGlyphs" stroke="#131722" stroke-width="0.3">7</text>
<text x="348.5" y="416.3" font-size="9.2" fill="#131722" text-anchor="start" font-weight="normal" textLength="8.2" lengthAdjust="spacingAndGlyphs" stroke="#131722" stroke-width="0.3">11</text>
<text x="399.2" y="416.3" font-size="9.2" fill="#131722" text-anchor="start" font-weight="normal" textLength="8.2" lengthAdjust="spacingAndGlyphs" stroke="#131722" stroke-width="0.3">13</text>
<text x="449.9" y="416.3" font-size="9.2" fill="#131722" text-anchor="start" font-weight="normal" textLength="8.2" lengthAdjust="spacingAndGlyphs" stroke="#131722" stroke-width="0.3">17</text>
<text x="500.6" y="416.3" font-size="9.2" fill="#131722" text-anchor="start" font-weight="normal" textLength="8.2" lengthAdjust="spacingAndGlyphs" stroke="#131722" stroke-width="0.3">19</text>
<text x="551.3" y="416.3" font-size="9.2" fill="#131722" text-anchor="start" font-weight="normal" textLength="8.2" lengthAdjust="spacingAndGlyphs" stroke="#131722" stroke-width="0.3">21</text>
<text x="602.0" y="416.3" font-size="9.2" fill="#131722" text-anchor="start" font-weight="normal" textLength="8.2" lengthAdjust="spacingAndGlyphs" stroke="#131722" stroke-width="0.3">25</text>
<text x="652.7" y="416.3" font-size="9.2" fill="#131722" text-anchor="start" font-weight="normal" textLength="8.2" lengthAdjust="spacingAndGlyphs" stroke="#131722" stroke-width="0.3">27</text>
<text x="700.4" y="416.3" font-size="9.2" fill="#131722" text-anchor="start" font-weight="bold" textLength="14.2" lengthAdjust="spacingAndGlyphs">Dec</text>
<text x="756.1" y="416.3" font-size="9.2" fill="#131722" text-anchor="start" font-weight="normal" textLength="4.2" lengthAdjust="spacingAndGlyphs" stroke="#131722" stroke-width="0.3">3</text>
<text x="806.8" y="416.3" font-size="9.2" fill="#131722" text-anchor="start" font-weight="normal" textLength="4.2" lengthAdjust="spacingAndGlyphs" stroke="#131722" stroke-width="0.3">5</text>
<text x="857.5" y="416.3" font-size="9.2" fill="#131722" text-anchor="start" font-weight="normal" textLength="4.2" lengthAdjust="spacingAndGlyphs" stroke="#131722" stroke-width="0.3">9</text>
<text x="906.2" y="416.3" font-size="9.2" fill="#131722" text-anchor="start" font-weight="normal" textLength="8.2" lengthAdjust="spacingAndGlyphs" stroke="#131722" stroke-width="0.3">11</text>
<text x="956.9" y="416.3" font-size="9.2" fill="#131722" text-anchor="start" font-weight="normal" textLength="8.2" lengthAdjust="spacingAndGlyphs" stroke="#131722" stroke-width="0.3">15</text>
<circle cx="26" cy="413.3" r="6.4" fill="#efefef"/>
<text x="26.2" y="416.4" font-size="8.2" fill="#6a6d78" text-anchor="middle" font-weight="normal" stroke="#6a6d78" stroke-width="0.25">Z</text>
<circle cx="995.4" cy="413.5" r="6.4" fill="#efefef"/>
<text x="995.5" y="416.6" font-size="8" fill="#6a6d78" text-anchor="middle" font-weight="normal" stroke="#6a6d78" stroke-width="0.25">A</text>
</svg></body></html>
